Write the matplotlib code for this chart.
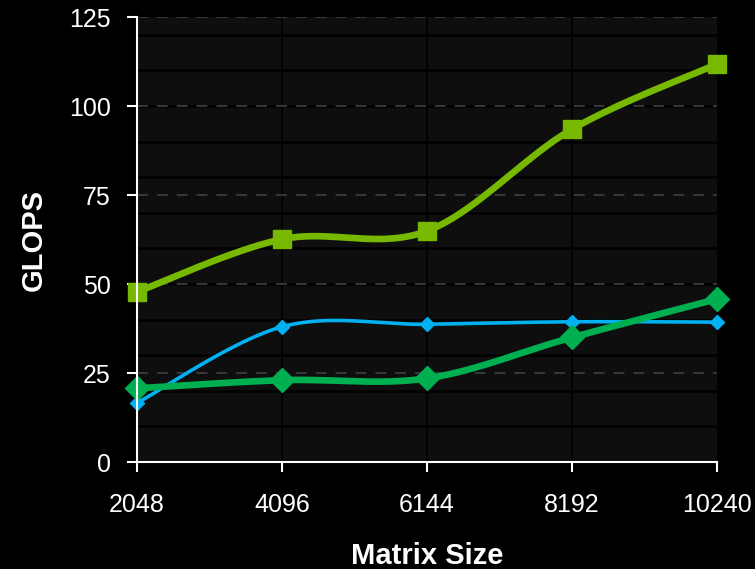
import numpy as np
import matplotlib
matplotlib.use("Agg")
import matplotlib.pyplot as plt
from matplotlib.ticker import MultipleLocator

plt.rcParams['font.family'] = ['Liberation Sans', 'DejaVu Sans']

matrix_sizes = [2048, 4096, 6144, 8192, 10240]
series_top = [47.8, 62.6, 64.9, 93.5, 111.8]      # light green, squares
series_blue = [16.6, 38.0, 38.7, 39.4, 39.3]      # blue, small diamonds
series_green = [20.7, 23.0, 23.5, 35.0, 45.8]     # green, diamonds


def smooth(xs, ys, n=40):
    """Cardinal (Catmull-Rom style) Bezier smoothing through every point."""
    xs = np.asarray(xs, float)
    ys = np.asarray(ys, float)
    px = np.concatenate([[xs[0]], xs, [xs[-1]]])
    py = np.concatenate([[ys[0]], ys, [ys[-1]]])
    out_x, out_y = [], []
    t = np.linspace(0, 1, n)
    for i in range(1, len(px) - 2):
        p0 = np.array([px[i], py[i]])
        p3 = np.array([px[i + 1], py[i + 1]])
        c1 = p0 + (np.array([px[i + 1], py[i + 1]]) - np.array([px[i - 1], py[i - 1]])) / 6
        c2 = p3 - (np.array([px[i + 2], py[i + 2]]) - np.array([px[i], py[i]])) / 6
        b = ((1 - t)[:, None] ** 3 * p0 + 3 * (1 - t)[:, None] ** 2 * t[:, None] * c1
             + 3 * (1 - t)[:, None] * t[:, None] ** 2 * c2 + t[:, None] ** 3 * p3)
        out_x.extend(b[:, 0])
        out_y.extend(b[:, 1])
    return out_x, out_y


fig = plt.figure(figsize=(7.55, 5.69), dpi=100, facecolor='black')
ax = fig.add_axes([0.1815, 0.188, 0.7682, 0.782])
ax.set_facecolor('#0e0e0e')

ax.set_xlim(2048, 10240)
ax.set_ylim(0, 125)

# minor solid grid every 10, dashed major every 25
for v in range(10, 125, 10):
    ax.axhline(v, color='black', lw=1.8, zorder=1)
for v in range(25, 126, 25):
    ax.axhline(v, color='#3c3c3c', lw=1.3, ls=(0, (6, 5)), zorder=1.5)
for xv in matrix_sizes[1:-1]:
    ax.axvline(xv, color='black', lw=1.2, zorder=1)

ax.plot(*smooth(matrix_sizes, series_blue), color='#00b0f0', lw=2.6,
        zorder=3, solid_capstyle='round', clip_on=False)
ax.plot(matrix_sizes, series_blue, ls='none', marker='D', ms=7,
        color='#00b0f0', zorder=3, clip_on=False)

ax.plot(*smooth(matrix_sizes, series_green), color='#00b050', lw=4.8,
        zorder=4, solid_capstyle='round', clip_on=False)
ax.plot(matrix_sizes, series_green, ls='none', marker='D', ms=12,
        color='#00b050', zorder=4, clip_on=False)

ax.plot(*smooth(matrix_sizes, series_top), color='#76b900', lw=4.8,
        zorder=5, solid_capstyle='round', clip_on=False)
ax.plot(matrix_sizes, series_top, ls='none', marker='s', ms=13,
        color='#76b900', zorder=5, clip_on=False)

ax.set_xticks(matrix_sizes)
ax.set_xticklabels([str(v) for v in matrix_sizes])
ax.yaxis.set_major_locator(MultipleLocator(25))

for s in ['top', 'right']:
    ax.spines[s].set_visible(False)
for s in ['left', 'bottom']:
    ax.spines[s].set_color('white')
    ax.spines[s].set_linewidth(1.5)
    ax.spines[s].set_zorder(6)

ax.tick_params(axis='both', colors='white', labelcolor='white', labelsize=18,
               length=7, width=1.5, direction='out')
ax.tick_params(axis='y', pad=12)
ax.tick_params(axis='x', pad=15)

ax.set_xlabel('Matrix Size', color='white', fontsize=21, fontweight='bold', labelpad=18)
ax.set_ylabel('GLOPS', color='white', fontsize=21, fontweight='bold', labelpad=15)

fig.savefig('out.png', dpi=100, facecolor='black')
